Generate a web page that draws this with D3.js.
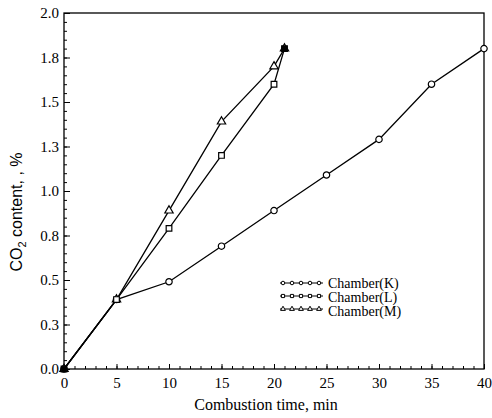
<!doctype html>
<html lang="en">
<head>
<meta charset="utf-8">
<title>CO2 content vs combustion time</title>
<style>
body { margin: 0; background: #fff; }
svg { display: block; }
</style>
</head>
<body>
<div id="chart"></div>
<script src="https://cdnjs.cloudflare.com/ajax/libs/d3/7.8.5/d3.min.js"></script>
<script>
// data
var timeK = [0, 5, 10, 15, 20, 25, 30, 35, 40];
var co2K  = [0, 0.39, 0.49, 0.69, 0.89, 1.09, 1.29, 1.60, 1.80];
var timeL = [0, 5, 10, 15, 20, 21];
var co2L  = [0, 0.39, 0.79, 1.20, 1.60, 1.80];
var timeM = [0, 5, 10, 15, 20, 21];
var co2M  = [0, 0.39, 0.89, 1.39, 1.70, 1.80];

var xTicks = [0, 5, 10, 15, 20, 25, 30, 35, 40];
var yTicks = [0, 0.25, 0.5, 0.75, 1.0, 1.25, 1.5, 1.75, 2.0];
var yTickLabels = ["0.0", "0.3", "0.5", "0.8", "1.0", "1.3", "1.5", "1.8", "2.0"];

var series = [
    {name: "Chamber(K)", x: timeK, y: co2K, symbol: d3.symbolCircle},
    {name: "Chamber(L)", x: timeL, y: co2L, symbol: d3.symbolSquare},
    {name: "Chamber(M)", x: timeM, y: co2M, symbol: d3.symbolTriangle}
];

var width = 492, height = 418;
var margin = {top: 13, right: 8, bottom: 49, left: 64};

var svg = d3.select("#chart").append("svg")
    .attr("width", width)
    .attr("height", height);

var x = d3.scaleLinear().domain([0, 40]).range([margin.left, width - margin.right]);
var y = d3.scaleLinear().domain([0, 2]).range([height - margin.bottom, margin.top]);

var serif = "\"Liberation Serif\", \"Times New Roman\", Times, \"DejaVu Serif\", serif";

// frame
svg.append("rect")
    .attr("x", x(0)).attr("y", y(2))
    .attr("width", x(40) - x(0)).attr("height", y(0) - y(2))
    .attr("fill", "none").attr("stroke", "#000").attr("stroke-width", 1.3);

// minor ticks
var xMinor = d3.range(0, 41, 1);
var yMinor = d3.range(0, 2.001, 0.05);

svg.append("g")
    .attr("transform", "translate(0," + y(0) + ")")
    .call(d3.axisTop(x).tickValues(xMinor).tickSize(3).tickFormat(""))
    .call(function(g) { g.select(".domain").remove(); });

svg.append("g")
    .attr("transform", "translate(" + x(0) + ",0)")
    .call(d3.axisRight(y).tickValues(yMinor).tickSize(3).tickFormat(""))
    .call(function(g) { g.select(".domain").remove(); });

// major ticks with labels
svg.append("g")
    .attr("transform", "translate(0," + y(0) + ")")
    .call(d3.axisBottom(x).tickValues(xTicks).tickSize(0).tickPadding(8).tickFormat(d3.format("d")))
    .call(function(g) { g.select(".domain").remove(); g.attr("font-family", serif).attr("font-size", 15); });

svg.append("g")
    .attr("transform", "translate(0," + y(0) + ")")
    .call(d3.axisTop(x).tickValues(xTicks).tickSize(5).tickFormat(""))
    .call(function(g) { g.select(".domain").remove(); });

svg.append("g")
    .attr("transform", "translate(" + x(0) + ",0)")
    .call(d3.axisLeft(y).tickValues(yTicks).tickSize(0).tickPadding(5)
        .tickFormat(function(d, i) { return yTickLabels[i]; }))
    .call(function(g) { g.select(".domain").remove(); g.attr("font-family", serif).attr("font-size", 15); });

svg.append("g")
    .attr("transform", "translate(" + x(0) + ",0)")
    .call(d3.axisRight(y).tickValues(yTicks).tickSize(6).tickFormat(""))
    .call(function(g) { g.select(".domain").remove(); });

// axis titles
svg.append("text")
    .attr("x", (x(0) + x(40)) / 2 - 8)
    .attr("y", 410)
    .attr("text-anchor", "middle")
    .attr("font-family", serif)
    .attr("font-size", 16)
    .text("Combustion time, min");

var yl = svg.append("text")
    .attr("transform", "translate(22,212) rotate(-90)")
    .attr("text-anchor", "middle")
    .attr("font-family", "\"Liberation Sans\", Arial, sans-serif")
    .attr("font-size", 16);
yl.append("tspan").text("CO");
yl.append("tspan").attr("dy", 4).attr("font-size", 11).text("2");
yl.append("tspan").attr("dy", -4).text(" content,  ,  %");

// lines
var line = d3.line()
    .x(function(d) { return x(d[0]); })
    .y(function(d) { return y(d[1]); });

series.forEach(function(s) {
    s.pts = s.x.map(function(t, i) { return [t, s.y[i]]; });
    svg.append("path")
        .datum(s.pts)
        .attr("d", line)
        .attr("fill", "none")
        .attr("stroke", "#000")
        .attr("stroke-width", 1.3);
});

// markers; squares last so the shared end points show as filled squares
[series[0], series[2], series[1]].forEach(function(s) {
    var isSq = s.symbol === d3.symbolSquare;
    svg.selectAll(null)
        .data(s.pts)
        .enter().append("path")
        .attr("transform", function(d) { return "translate(" + x(d[0]) + "," + y(d[1]) + ")"; })
        .attr("d", d3.symbol().type(s.symbol).size(s.symbol === d3.symbolTriangle ? 30 : 32))
        .attr("fill", function(d) { return isSq && (d[0] === 21 || d[0] === 0) ? "#000" : "#fff"; })
        .attr("stroke", "#000")
        .attr("stroke-width", 1.2);
});

// legend
var legend = svg.append("g").attr("transform", "translate(280,283)");
series.forEach(function(s, i) {
    var row = legend.append("g").attr("transform", "translate(0," + (i * 13) + ")");
    row.append("line")
        .attr("x1", 0).attr("x2", 43)
        .attr("stroke", "#000").attr("stroke-width", 1);
    d3.range(5).forEach(function(k) {
        row.append("path")
            .attr("transform", "translate(" + (3 + k * 9) + ",0)")
            .attr("d", d3.symbol().type(s.symbol).size(10))
            .attr("fill", "#fff")
            .attr("stroke", "#000")
            .attr("stroke-width", 1);
    });
    row.append("text")
        .attr("x", 48)
        .attr("y", 5 + i * 1)
        .attr("font-family", serif)
        .attr("font-size", 14)
        .text(s.name);
});
</script>
</body>
</html>
